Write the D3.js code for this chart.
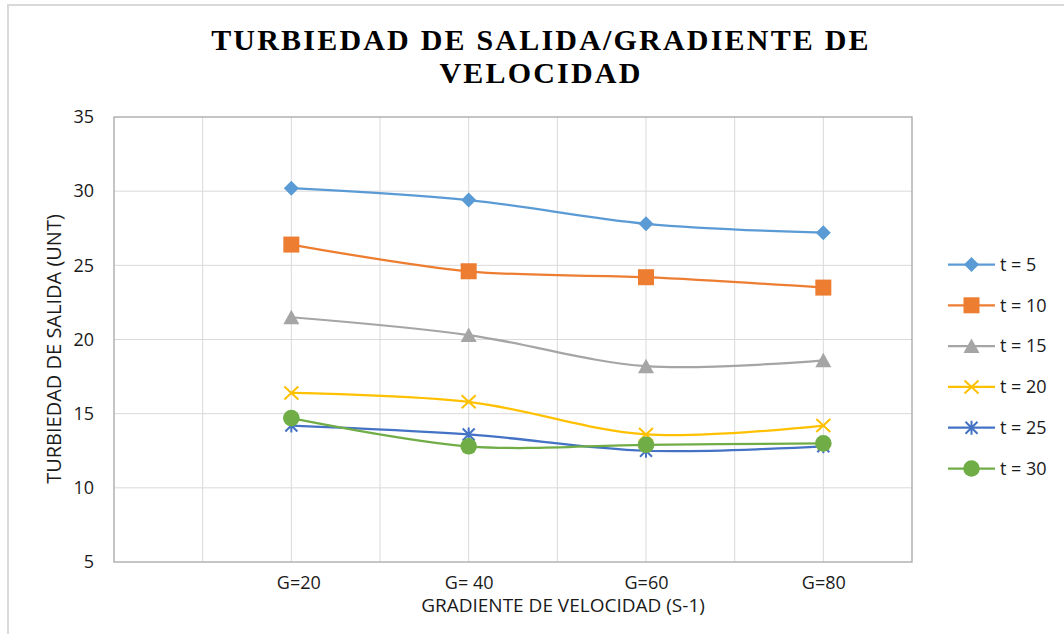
<!DOCTYPE html>
<html>
<head>
<meta charset="utf-8">
<script src="https://cdn.jsdelivr.net/npm/d3@7"></script>
<style>
  html, body { margin: 0; padding: 0; background: #fff; }
  svg { display: block; }
</style>
</head>
<body>
<svg id="chart" width="1064" height="634"></svg>
<script>
// ---- data ----
const categories = ["\u00A0\u00A0\u00A0G=20", "G= 40", "G=60", "G=80"];
const gradient = [20, 40, 60, 80];
const yTicks = [5, 10, 15, 20, 25, 30, 35];
const seriesNames = ["t = 5", "t = 10", "t = 15", "t = 20", "t = 25", "t = 30"];
const t5  = [30.2, 29.4, 27.8, 27.2];
const t10 = [26.4, 24.6, 24.2, 23.5];
const t15 = [21.5, 20.3, 18.2, 18.6];
const t20 = [16.4, 15.8, 13.6, 14.2];
const t25 = [14.2, 13.6, 12.5, 12.8];
const t30 = [14.7, 12.8, 12.9, 13.0];
const seriesValues = [t5, t10, t15, t20, t25, t30];
const colors = ["#5B9BD5", "#ED7D31", "#A5A5A5", "#FFC000", "#4472C4", "#70AD47"];
const markers = ["diamond", "square", "triangle", "x", "star", "circle"];

const svg = d3.select("#chart");
const W = 1064, H = 634;
const plot = { left: 114, right: 912, top: 117, bottom: 562 };

// outer chart border
svg.append("rect").attr("x", 8).attr("y", 5).attr("width", W + 20).attr("height", H + 20)
  .attr("fill", "#fff").attr("stroke", "#D9D9D9").attr("stroke-width", 2);

const x = d3.scaleLinear().domain([0, 90]).range([plot.left, plot.right]);
const y = d3.scaleLinear().domain([5, 35]).range([plot.bottom, plot.top]);

// gridlines
const gridG = svg.append("g");
gridG.selectAll("line.v").data(d3.range(10, 90, 10)).join("line")
  .attr("x1", d => x(d)).attr("x2", d => x(d))
  .attr("y1", plot.top).attr("y2", plot.bottom)
  .attr("stroke", "#D9D9D9").attr("stroke-width", 1);
gridG.selectAll("line.h").data(yTicks.slice(1, -1)).join("line")
  .attr("x1", plot.left).attr("x2", plot.right)
  .attr("y1", d => y(d)).attr("y2", d => y(d))
  .attr("stroke", "#D9D9D9").attr("stroke-width", 1);

// plot border
svg.append("rect").attr("x", plot.left).attr("y", plot.top)
  .attr("width", plot.right - plot.left).attr("height", plot.bottom - plot.top)
  .attr("fill", "none").attr("stroke", "#A6A6A6").attr("stroke-width", 1.3);

// axes
const yAxis = d3.axisLeft(y).tickValues(yTicks).tickSize(0).tickPadding(20).tickFormat(d3.format("d"));
const yg = svg.append("g").attr("transform", `translate(${plot.left},0)`).call(yAxis);
yg.select(".domain").remove();
yg.selectAll("text").attr("font-family", "'Open Sans'").attr("font-size", 18).attr("fill", "#1a1a1a");

const xAxis = d3.axisBottom(x).tickValues(gradient).tickSize(0).tickPadding(14)
  .tickFormat((d, i) => categories[i]);
const xg = svg.append("g").attr("transform", `translate(0,${plot.bottom})`).call(xAxis);
xg.select(".domain").remove();
xg.selectAll("text").attr("font-family", "'Open Sans'").attr("font-size", 18).attr("fill", "#1a1a1a");

// axis titles
svg.append("text").attr("x", 563).attr("y", 612)
  .attr("text-anchor", "middle").attr("font-family", "'Open Sans'").attr("font-size", 19)
  .attr("fill", "#1a1a1a").text("GRADIENTE DE VELOCIDAD (S-1)");
svg.append("text").attr("transform", "translate(61,349) rotate(-90)")
  .attr("text-anchor", "middle").attr("font-family", "'Open Sans'").attr("font-size", 20)
  .attr("fill", "#1a1a1a").text("TURBIEDAD DE SALIDA (UNT)");

// title
const title = svg.append("text").attr("text-anchor", "middle")
  .attr("font-family", "'Liberation Serif'").attr("font-weight", "bold")
  .attr("font-size", 30).attr("letter-spacing", "2.2px").attr("fill", "#000");
title.append("tspan").attr("x", 541).attr("y", 50).text("TURBIEDAD DE SALIDA/GRADIENTE DE");
title.append("tspan").attr("x", 541).attr("y", 83).text("VELOCIDAD");

// marker drawing
function drawMarker(g, type, color) {
  if (type === "diamond") {
    g.append("path").attr("d", "M0,-7.5L7.5,0L0,7.5L-7.5,0Z").attr("fill", color);
  } else if (type === "square") {
    g.append("rect").attr("x", -8).attr("y", -8).attr("width", 16).attr("height", 16).attr("fill", color);
  } else if (type === "triangle") {
    g.append("path").attr("d", "M0,-7.5L8,7L-8,7Z").attr("fill", color);
  } else if (type === "x") {
    g.append("path").attr("d", "M-7,-6.5L7,6.5M-7,6.5L7,-6.5").attr("stroke", color).attr("stroke-width", 2).attr("fill", "none");
  } else if (type === "star") {
    g.append("path").attr("d", "M-6,-6L6,6M-6,6L6,-6M0,-7L0,7").attr("stroke", color).attr("stroke-width", 2).attr("fill", "none");
  } else if (type === "circle") {
    g.append("circle").attr("r", 8.3).attr("fill", color);
  }
}

const line = d3.line().x((d, i) => x(gradient[i])).y(d => y(d)).curve(d3.curveCatmullRom.alpha(0.5));

seriesValues.forEach((vals, si) => {
  const sg = svg.append("g");
  sg.append("path").attr("d", line(vals)).attr("fill", "none")
    .attr("stroke", colors[si]).attr("stroke-width", 2.25).attr("stroke-linecap", "round");
  vals.forEach((v, i) => {
    const mg = sg.append("g").attr("transform", `translate(${x(gradient[i])},${y(v)})`);
    drawMarker(mg, markers[si], colors[si]);
  });
});

// legend
const legend = svg.append("g");
seriesNames.forEach((name, si) => {
  const ly = 264.5 + si * 40.8;
  const lg = legend.append("g").attr("transform", `translate(0,${ly})`);
  lg.append("line").attr("x1", 948).attr("x2", 995).attr("y1", 0).attr("y2", 0)
    .attr("stroke", colors[si]).attr("stroke-width", 2.25);
  const mg = lg.append("g").attr("transform", "translate(971.5,0)");
  drawMarker(mg, markers[si], colors[si]);
  lg.append("text").attr("x", 1000).attr("y", 0).attr("dy", "0.35em")
    .attr("font-family", "'Open Sans'").attr("font-size", 18).attr("fill", "#1a1a1a").text(name);
});
</script>
</body>
</html>
